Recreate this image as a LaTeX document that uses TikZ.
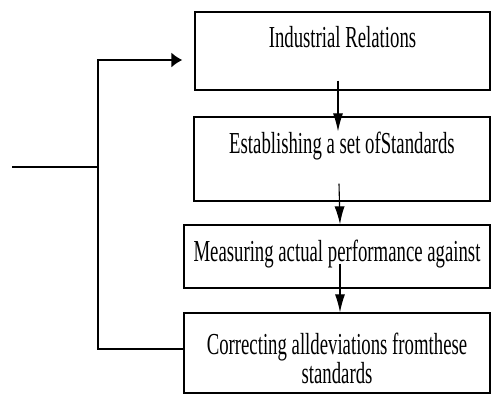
\documentclass[tikz,border=0pt]{standalone}
\usepackage{fontspec}
\setmainfont{Liberation Serif}
\newfontfamily\stagefont[FakeStretch=0.615]{Liberation Serif}
\usepackage{tikz}
\usetikzlibrary{arrows.meta}
\tikzset{
	% The boxes of the control process
	stage_box/.style={
		draw=black,rectangle,line width=1.3pt,inner sep=0pt,
		font=\stagefont\fontsize{30.5}{26}\selectfont,align=center
	},
	% The arrows from one stage down to the next
	flow_arrow/.style={
		draw=black,line width=1.1pt,-{Latex[length=18pt,width=10pt]}
	},
	% The feedback line round the left side
	loop_line/.style={
		draw=black,line width=1.3pt
	},
}
\begin{document}
\begin{tikzpicture}[x=1pt,y=-1pt]
		\useasboundingbox (0,0) rectangle (491,394);
		% Stages
		\node [stage_box, minimum width=295pt, text height=35pt, text depth=43pt] (Relations) at (342.5,51) {Industrial Relations};
		\node [stage_box, minimum width=296pt, text height=36pt, text depth=48pt] (Standards) at (342,159) {Establishing a set ofStandards};
		\node [stage_box, minimum width=306pt, text height=36pt, text depth=27pt] (Measuring) at (337,256.5) {Measuring actual performance against};
		\node [stage_box, minimum width=306pt, text height=70pt, text depth=10pt] (Correcting) at (337,353) {Correcting alldeviations fromthese\\standards};

		% Feedback
		\coordinate (Feed) at (12,167);
		\coordinate (Bus) at (98,167);
		\draw [loop_line] (Feed) -- (Bus);
		\draw [loop_line, -{Latex[length=11pt,width=15pt]}, shorten >=12pt] ([yshift=4pt]Correcting.west) -| (Bus) |- ([yshift=-9pt]Relations.west);

		% Flow
		\draw [flow_arrow] ([xshift=-4.5pt,yshift=10pt]Relations.south) -- ([xshift=-4pt,yshift=-15pt]Standards.north);
		\draw [flow_arrow] ([xshift=-3pt,yshift=18pt]Standards.south) -- ([xshift=3pt]Measuring.north);
		\draw [flow_arrow] ([xshift=3pt,yshift=25pt]Measuring.south) -- ([xshift=3pt]Correcting.north);
	\end{tikzpicture}
\end{document}
